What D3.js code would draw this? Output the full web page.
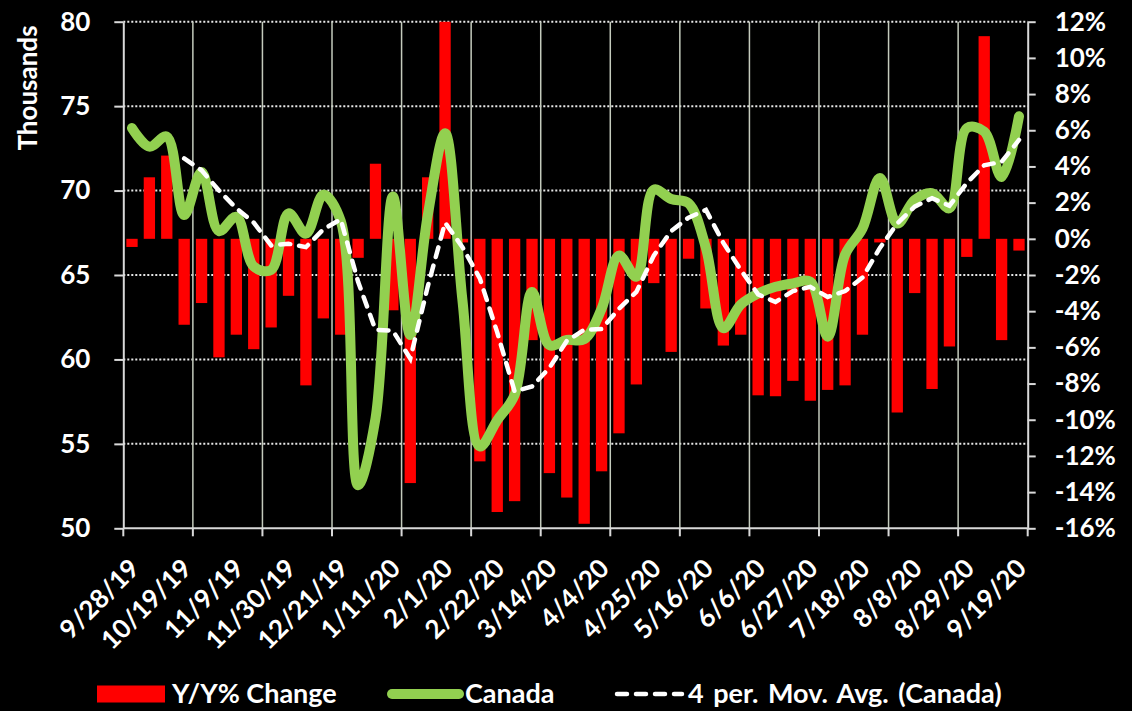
<!DOCTYPE html>
<html>
<head>
<meta charset="utf-8">
<script src="https://cdn.jsdelivr.net/npm/d3@7"></script>
<style>
  body { margin: 0; background: #000; }
  text { font-family: Lato, "Open Sans", sans-serif; font-weight: 700; fill: #fff; }
</style>
</head>
<body>
<div id="chart"></div>
<script>
// weekly categories
var weeks = ["9/28/19","10/5/19","10/12/19","10/19/19","10/26/19","11/2/19","11/9/19","11/16/19",
  "11/23/19","11/30/19","12/7/19","12/14/19","12/21/19","12/28/19","1/4/20","1/11/20","1/18/20",
  "1/25/20","2/1/20","2/8/20","2/15/20","2/22/20","2/29/20","3/7/20","3/14/20","3/21/20","3/28/20",
  "4/4/20","4/11/20","4/18/20","4/25/20","5/2/20","5/9/20","5/16/20","5/23/20","5/30/20","6/6/20",
  "6/13/20","6/20/20","6/27/20","7/4/20","7/11/20","7/18/20","7/25/20","8/1/20","8/8/20","8/15/20",
  "8/22/20","8/29/20","9/5/20","9/12/20","9/19/20"];

var tickLabels = ["9/28/19","10/19/19","11/9/19","11/30/19","12/21/19","1/11/20","2/1/20","2/22/20",
  "3/14/20","4/4/20","4/25/20","5/16/20","6/6/20","6/27/20","7/18/20","8/8/20","8/29/20","9/19/20"];

// Y/Y % change (right axis)
var yoyChange = [-0.45, 3.4, 4.6, -4.75, -3.55, -6.55, -5.3, -6.1, -4.9, -3.15, -8.1, -4.4, -5.3,
  -1.05, 4.15, -3.95, -13.5, 3.4, 12.4, -0.2, -12.3, -15.1, -14.5, -5.6, -12.95, -14.3, -15.75,
  -12.85, -10.75, -8.05, -2.45, -6.25, -1.1, -3.85, -5.9, -5.3, -8.65, -8.7, -7.85, -8.95,
  -8.35, -8.1, -5.3, -0.2, -9.6, -3.0, -8.3, -5.95, -1.0, 11.2, -5.6, -0.65];

// Canada, thousands (left axis)
var canada = [73.7, 72.6, 73.2, 68.55, 71.1, 67.6, 68.45, 65.5, 65.3, 68.65, 67.45, 69.75, 68.2,
  52.55, 56.5, 69.65, 61.45, 68.5, 73.4, 63.5, 54.85, 56.4, 57.9, 64.0, 60.85, 61.15, 61.2, 63.0,
  66.15, 64.9, 70.05, 69.5, 69.25, 66.6, 61.85, 63.25, 63.9, 64.3, 64.5, 64.6, 61.35, 66.2, 67.75,
  70.75, 68.05, 69.45, 69.85, 68.95, 73.7, 73.5, 70.8, 74.4];

// 4 per. moving average, starts at the 4th week
var maStart = 3;
var movAvg = [71.9, 71.2, 70.0, 68.95, 68.1, 66.75, 66.85, 66.65, 67.7, 68.3, 64.6, 61.75, 61.7,
  60.05, 64.3, 68.1, 66.65, 64.8, 61.6, 58.1, 58.4, 59.5, 61.1, 61.75, 61.8, 63.0, 64.0, 66.15,
  67.6, 68.4, 68.85, 66.9, 65.3, 63.85, 63.4, 64.05, 64.3, 63.7, 64.05, 64.85, 66.6, 68.05, 69.05,
  69.55, 69.1, 70.45, 71.5, 71.7, 73.0];

var leftTicks = [50, 55, 60, 65, 70, 75, 80];
var rightTicks = d3.range(-16, 13, 2);

var W = 1132, H = 711;
var L = 123.3, R = 1027.7, T = 21.7, B = 528.3;

var svg = d3.select("#chart").append("svg").attr("width", W).attr("height", H);
svg.append("rect").attr("width", W).attr("height", H).attr("fill", "#000");

var x = d3.scaleBand().domain(weeks).range([L, R]).padding(0);
var bw = x.bandwidth();
var yL = d3.scaleLinear().domain([50, 80]).range([B, T]);
var yR = d3.scaleLinear().domain([-16, 12]).range([B, T]);

svg.append("clipPath").attr("id", "plot")
  .append("rect").attr("x", L).attr("y", T).attr("width", R - L).attr("height", B - T);

// gridlines
svg.append("g").selectAll("line")
  .data(leftTicks.filter(function (d) { return d > 50; }))
  .enter().append("line")
  .attr("x1", L).attr("x2", R)
  .attr("y1", function (d) { return yL(d); }).attr("y2", function (d) { return yL(d); })
  .attr("stroke", "#e8e8e8").attr("stroke-width", 2).attr("stroke-dasharray", "2,2");

var bounds = weeks.filter(function (d, i) { return i % 4 === 0 && i > 0; });
svg.append("g").selectAll("line")
  .data(bounds).enter().append("line")
  .attr("x1", function (d) { return x(d); }).attr("x2", function (d) { return x(d); })
  .attr("y1", T).attr("y2", B)
  .attr("stroke", "#c4cbbd").attr("stroke-width", 1.5);

// bars
svg.append("g").attr("clip-path", "url(#plot)")
  .selectAll("rect").data(yoyChange).enter().append("rect")
  .attr("x", function (d, i) { return x(weeks[i]) + bw * 0.175; })
  .attr("width", bw * 0.65)
  .attr("y", function (d) { return yR(Math.max(0, d)); })
  .attr("height", function (d) { return Math.abs(yR(d) - yR(0)); })
  .attr("fill", "#ff0000");

// Canada line
var line = d3.line()
  .x(function (d) { return x(d.week) + bw / 2; })
  .y(function (d) { return yL(d.value); })
  .curve(d3.curveCatmullRom.alpha(0.5));

var canadaPts = canada.map(function (v, i) { return { week: weeks[i], value: v }; });
svg.append("path").datum(canadaPts)
  .attr("d", line)
  .attr("fill", "none").attr("stroke", "#92d050").attr("stroke-width", 10)
  .attr("stroke-linecap", "round").attr("stroke-linejoin", "round");

// moving average
var maLine = d3.line()
  .x(function (d) { return x(d.week) + bw / 2; })
  .y(function (d) { return yL(d.value); });
var maPts = movAvg.map(function (v, i) { return { week: weeks[i + maStart], value: v }; });
svg.append("path").datum(maPts)
  .attr("d", maLine)
  .attr("fill", "none").attr("stroke", "#fff").attr("stroke-width", 4.5)
  .attr("stroke-dasharray", "10,9").attr("stroke-linecap", "round");

// axes
var axisL = svg.append("g").attr("transform", "translate(" + L + ",0)")
  .call(d3.axisLeft(yL).tickValues(leftTicks).tickSize(9).tickSizeOuter(0).tickPadding(24));
var axisR = svg.append("g").attr("transform", "translate(" + R + ",0)")
  .call(d3.axisRight(yR).tickValues(rightTicks).tickSize(8).tickSizeOuter(0).tickPadding(19)
    .tickFormat(function (d) { return d + "%"; }));
[axisL, axisR].forEach(function (g) {
  g.select(".domain").attr("stroke", "#d9d9d9").attr("stroke-width", 2);
  g.selectAll(".tick line").attr("stroke", "#d9d9d9").attr("stroke-width", 2);
  g.selectAll(".tick text").style("font-size", "26px").attr("fill", "#fff");
});

svg.append("line").attr("x1", L).attr("x2", R).attr("y1", B).attr("y2", B)
  .attr("stroke", "#d9d9d9").attr("stroke-width", 2);
svg.append("g").selectAll("line")
  .data(weeks.filter(function (d, i) { return i % 4 === 0; }).concat(["end"]))
  .enter().append("line")
  .attr("x1", function (d) { return d === "end" ? R : x(d); })
  .attr("x2", function (d) { return d === "end" ? R : x(d); })
  .attr("y1", B).attr("y2", B + 8)
  .attr("stroke", "#d9d9d9").attr("stroke-width", 2);

svg.append("g").selectAll("text")
  .data(tickLabels).enter().append("text")
  .attr("transform", function (d) {
    return "translate(" + (x(d) + bw / 2 + 9) + "," + 570 + ") rotate(-45)";
  })
  .attr("text-anchor", "end")
  .style("font-size", "26px")
  .text(function (d) { return d; });

svg.append("text")
  .attr("transform", "translate(37,88) rotate(-90)")
  .attr("text-anchor", "middle")
  .style("font-size", "26px")
  .text("Thousands");

// legend
var ly = 694;
var legend = svg.append("g");
legend.append("rect").attr("x", 97).attr("y", ly - 8.5).attr("width", 68).attr("height", 17).attr("fill", "#ff0000");
legend.append("text").attr("x", 172).attr("y", ly).attr("dy", "0.35em").style("font-size", "27px").text("Y/Y% Change");
legend.append("line").attr("x1", 392).attr("x2", 459).attr("y1", ly).attr("y2", ly)
  .attr("stroke", "#92d050").attr("stroke-width", 10).attr("stroke-linecap", "round");
legend.append("text").attr("x", 465).attr("y", ly).attr("dy", "0.35em").style("font-size", "27px").text("Canada");
legend.append("line").attr("x1", 617).attr("x2", 682).attr("y1", ly).attr("y2", ly)
  .attr("stroke", "#fff").attr("stroke-width", 4.5).attr("stroke-dasharray", "10,9").attr("stroke-linecap", "round");
legend.append("text").attr("x", 688).attr("y", ly).attr("dy", "0.35em").style("font-size", "27px")
  .attr("word-spacing", "3px").text("4 per. Mov. Avg. (Canada)");
</script>
</body>
</html>
